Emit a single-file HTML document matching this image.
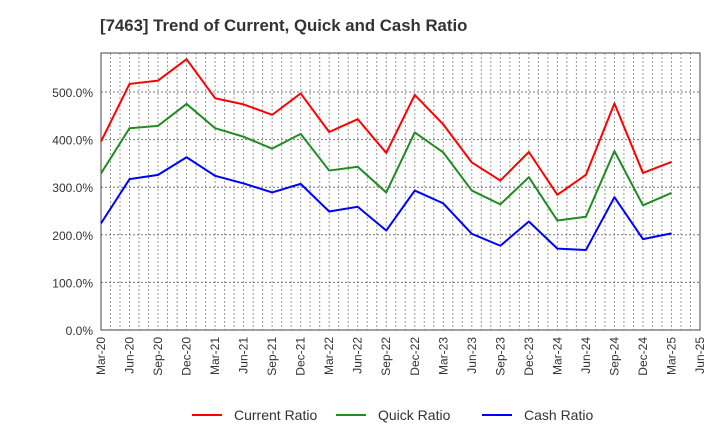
<!DOCTYPE html>
<html><head><meta charset="utf-8"><style>
body{margin:0;background:#fff;font-family:"Liberation Sans",sans-serif;}
</style></head><body>
<svg id="chart" width="720" height="440" xmlns="http://www.w3.org/2000/svg" font-family="Liberation Sans, sans-serif">
<text x="100" y="31" font-size="16.8" font-weight="bold" fill="#333">[7463]  Trend of Current, Quick and Cash Ratio</text>
<g id="grid"></g><g id="axes"></g><g id="series"></g>
<g>
<line x1="192" y1="415" x2="222" y2="415" stroke="#ff0000" stroke-width="2"/>
<text x="234" y="420" font-size="14" fill="#333">Current Ratio</text>
<line x1="336" y1="415" x2="366" y2="415" stroke="#228b22" stroke-width="2"/>
<text x="378" y="420" font-size="14" fill="#333">Quick Ratio</text>
<line x1="482" y1="415" x2="512" y2="415" stroke="#0000ff" stroke-width="2"/>
<text x="524" y="420" font-size="14" fill="#333">Cash Ratio</text>
</g>
</svg>
<script>
const xLabels=["Mar-20","Jun-20","Sep-20","Dec-20","Mar-21","Jun-21","Sep-21","Dec-21","Mar-22","Jun-22","Sep-22","Dec-22","Mar-23","Jun-23","Sep-23","Dec-23","Mar-24","Jun-24","Sep-24","Dec-24","Mar-25","Jun-25"];
const yTicks=[0,100,200,300,400,500];
const currentRatio=[396,517,524,569,487,474,452,497,416,443,372,494,432,352,314,374,284,326,476,330,353];
const quickRatio=[329,424,429,475,424,406,381,412,335,343,289,415,373,293,264,321,230,238,376,262,288];
const cashRatio=[224,317,326,363,324,308,289,307,249,259,209,293,266,202,177,228,171,168,279,191,203];
const NS="http://www.w3.org/2000/svg";
const L=101,R=700,T=53,B=330,YMAX=582,MONTHS=63;
const xm=m=>L+(R-L)*m/MONTHS;
const xq=i=>xm(i*3);
const y=v=>B-(B-T)*v/YMAX;
function mk(tag,attrs,parent){const e=document.createElementNS(NS,tag);for(const k in attrs)e.setAttribute(k,attrs[k]);parent.appendChild(e);return e;}
const grid=document.getElementById('grid'),axes=document.getElementById('axes'),series=document.getElementById('series');
for(let m=1;m<MONTHS;m++){const l=mk('line',{x1:xm(m),x2:xm(m),y1:T,y2:B,stroke:'#999','stroke-width':1,'stroke-dasharray':'2,2'},grid);

}
yTicks.forEach(v=>{if(v>0){const l=mk('line',{x1:L,x2:R,y1:y(v),y2:y(v),stroke:'#777','stroke-width':1,'stroke-dasharray':'2,2'},grid);

}
const t=mk('text',{x:L-8,y:y(v)+5,'text-anchor':'end','font-size':12,fill:'#333'},axes);t.textContent=v.toFixed(1)+'%';

});
const fr=mk('rect',{x:L,y:T,width:R-L,height:B-T,fill:'none',stroke:'#444','stroke-width':1},axes);


xLabels.forEach((s,i)=>{const x=xq(i);const t=mk('text',{x:0,y:0,'text-anchor':'end','font-size':12,fill:'#333',transform:`translate(${x+4},${B+7}) rotate(-90)`},axes);t.textContent=s;

});
[[currentRatio,'#ff0000','current-ratio-line'],[quickRatio,'#228b22','quick-ratio-line'],[cashRatio,'#0000ff','cash-ratio-line']].forEach(([d,c,n])=>{
const p=mk('polyline',{points:d.map((v,i)=>xq(i)+','+y(v)).join(' '),fill:'none',stroke:c,'stroke-width':2,'stroke-linejoin':'round'},series);

});
</script>
</body></html>
